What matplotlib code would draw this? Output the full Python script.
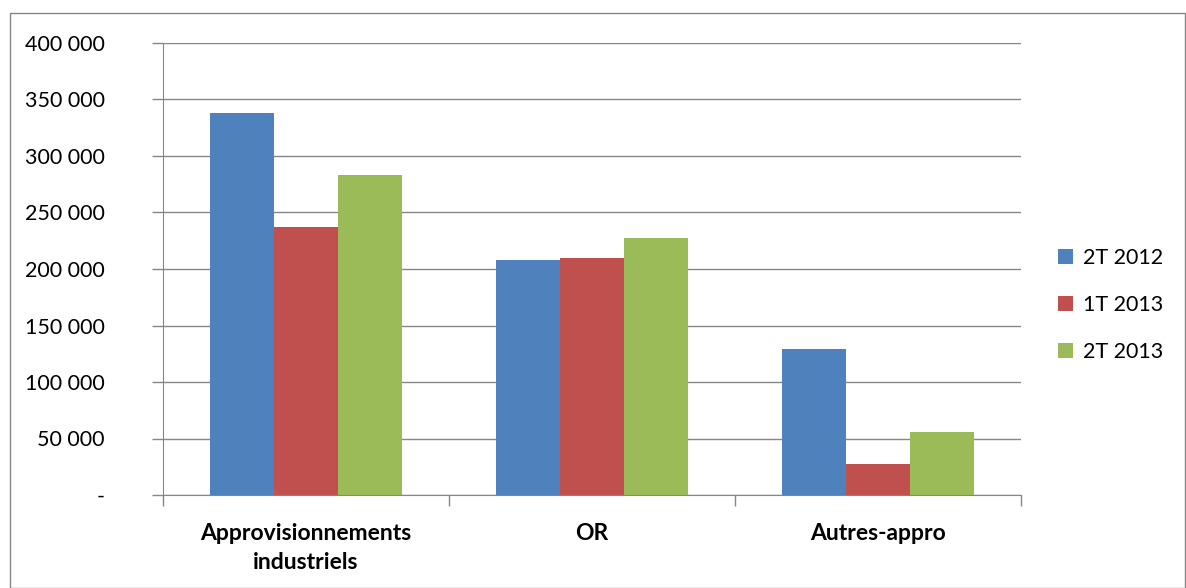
import numpy as np
import matplotlib.pyplot as plt
from matplotlib.patches import Rectangle

plt.rcParams['font.family'] = ['Lato', 'DejaVu Sans']

categories = ['Approvisionnements\nindustriels', 'OR', 'Autres-appro']
series = ['2T 2012', '1T 2013', '2T 2013']
values_2t2012 = [338000, 208000, 129000]
values_1t2013 = [237000, 210000, 27000]
values_2t2013 = [283000, 227000, 56000]
colors = ['#4F81BD', '#C0504D', '#9BBB59']
yticks = [0, 50000, 100000, 150000, 200000, 250000, 300000, 350000, 400000]
ytick_labels = ['-', '50 000', '100 000', '150 000', '200 000', '250 000',
                '300 000', '350 000', '400 000']

fig = plt.figure(figsize=(11.86, 5.88), dpi=100)
ax = fig.add_axes([163 / 1186, 1 - 495 / 588, (1021 - 163) / 1186, (495 - 43) / 588])

# outer chart border
fig.patches.append(Rectangle((10 / 1186, 0.5 / 588), (1185 - 10) / 1186, (575 - 0.5) / 588,
                             transform=fig.transFigure, fill=False,
                             edgecolor='#868686', linewidth=1))

x = np.arange(len(categories))
w = 0.224
data = [values_2t2012, values_1t2013, values_2t2013]
for i, (vals, name, c) in enumerate(zip(data, series, colors)):
    ax.bar(x + (i - 1) * w, vals, w, color=c, label=name, zorder=3)

ax.set_xlim(-0.5, 2.5)
ax.set_ylim(0, 400000)
ax.set_yticks(yticks)
ax.set_yticklabels(ytick_labels, fontsize=15.5)
ax.yaxis.grid(True, color='#868686', linewidth=1)
ax.set_axisbelow(True)

ax.set_xticks([-0.5, 0.5, 1.5, 2.5])
ax.set_xticklabels([])
ax.set_xticks(x, minor=True)
ax.set_xticklabels(categories, minor=True, fontsize=16.5, fontweight='bold',
                   linespacing=1.5)
ax.tick_params(axis='x', which='minor', length=0, pad=20)
ax.tick_params(axis='x', which='major', length=8, color='#868686', width=1)
ax.tick_params(axis='y', length=8, color='#868686', width=1, pad=34)

for side in ['top', 'right']:
    ax.spines[side].set_visible(False)
for side in ['left', 'bottom']:
    ax.spines[side].set_color('#868686')

ax.legend(loc='center left', bbox_to_anchor=(1.02, 0.42), frameon=False,
          fontsize=15.5, handlelength=0.7, handleheight=0.7, labelspacing=1.25,
          handletextpad=0.5)

fig.savefig('out.png', dpi=100)
